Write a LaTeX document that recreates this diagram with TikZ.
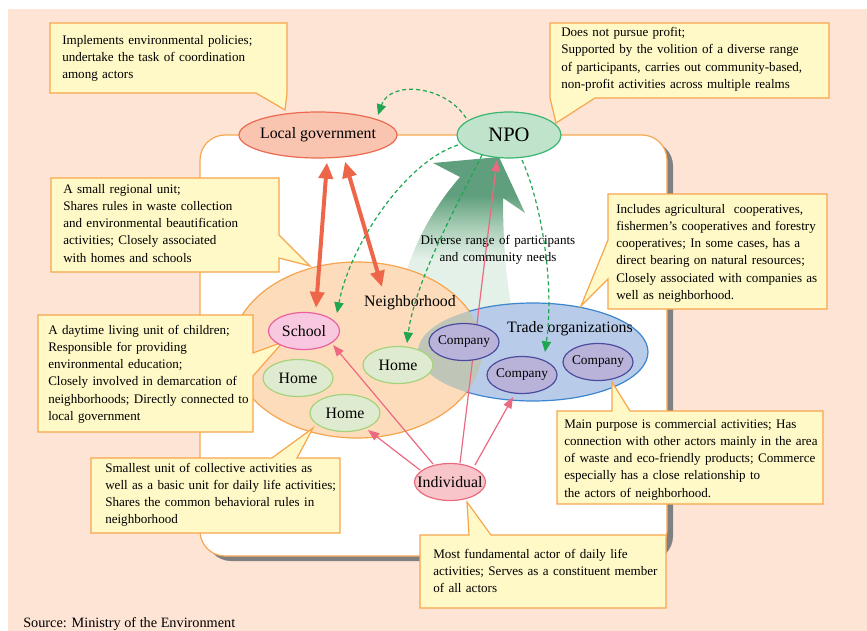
\documentclass[tikz,border=0pt]{standalone}
\usepackage{fontspec}
\setmainfont{Liberation Serif}
\usetikzlibrary{shapes.geometric,arrows.meta,calc}

\definecolor{peach}{HTML}{FDE4D4}
\definecolor{boxline}{HTML}{F6A852}
\definecolor{shadowgray}{HTML}{808080}
\definecolor{notefill}{HTML}{FFF9C8}
\definecolor{noteline}{HTML}{F7A64C}
\definecolor{lgfill}{HTML}{F9C5B1}
\definecolor{lgline}{HTML}{EC6A4F}
\definecolor{npofill}{HTML}{BFE3CB}
\definecolor{npoline}{HTML}{3AB570}
\definecolor{nbfill}{HTML}{FDDCBC}
\definecolor{nbline}{HTML}{F6A44E}
\definecolor{trfill}{HTML}{B8CCE9}
\definecolor{trline}{HTML}{3C86CF}
\definecolor{ovfill}{HTML}{BFC6B8}
\definecolor{compfill}{HTML}{B9B3DA}
\definecolor{compline}{HTML}{4C4C9E}
\definecolor{homefill}{HTML}{DEEBD0}
\definecolor{homeline}{HTML}{A6D27A}
\definecolor{schfill}{HTML}{F8C8E1}
\definecolor{schline}{HTML}{E8619E}
\definecolor{indfill}{HTML}{F8C5CA}
\definecolor{indline}{HTML}{EA6A7E}
\definecolor{redarr}{HTML}{EE6649}
\definecolor{pinkarr}{HTML}{EC6A80}
\definecolor{greendash}{HTML}{1FA64F}
\definecolor{arrowdark}{HTML}{5F9F7D}
\definecolor{arrowmid}{HTML}{A8CDB6}
\definecolor{arrowlight}{HTML}{E4F1E8}

% fade of the big participation arrow, light at the tail, dark at the head
\pgfdeclareverticalshading{arrowfade}{100bp}{color(0bp)=(arrowlight); color(46bp)=(arrowlight); color(55bp)=(arrowmid); color(64bp)=(arrowdark); color(100bp)=(arrowdark)}

\pgfdeclarelayer{back}
\pgfdeclarelayer{links}
\pgfsetlayers{back,links,main}

\newcommand\notefont{\fontsize{9.8}{12.9}\selectfont}
\newcommand\actorfont{\fontsize{11.9}{14}\selectfont}
\newcommand\npofont{\fontsize{15.4}{18}\selectfont}
\newcommand\compfont{\fontsize{10}{12}\selectfont}
\newcommand\srcfont{\fontsize{10.7}{13}\selectfont}

\tikzset{
  note/.style={fill=notefill, draw=noteline, line width=0.9pt, line join=miter},
  notetext/.style={font=\notefont, anchor=base west, align=left, text width=215pt, inner sep=0pt},
  actor/.style={ellipse, inner sep=0pt, line width=0.9pt, minimum width=53.25pt, minimum height=27.75pt, font=\actorfont},
  home/.style={actor, fill=homefill, draw=homeline, minimum width=52.5pt},
  company/.style={actor, fill=compfill, draw=compline, minimum width=52.5pt, font=\compfont},
  redlink/.style={draw=redarr, line width=3pt, arrows={Triangle[length=12pt,width=10.5pt]-Triangle[length=12pt,width=10.5pt]}},
  pinklink/.style={draw=pinkarr, line width=0.9pt, -{Triangle[length=8.5pt,width=6.5pt]}},
  greenlink/.style={draw=greendash, line width=0.9pt, dash pattern=on 3pt off 2.2pt, -{Triangle[length=8pt,width=7pt]}}
}

\begin{document}
\begin{tikzpicture}[x=0.75pt,y=-0.75pt]
\useasboundingbox (0,0) rectangle (867,631);

\begin{pgfonlayer}{back}
  \fill[peach] (8,9) rectangle (867,631);
  % framed area with drop shadow
  \fill[shadowgray, rounded corners=18.75pt] (206,141) rectangle (673,561);
  \draw[boxline, line width=0.9pt, fill=white, rounded corners=18.75pt] (200,135) rectangle (667,556);

  % participation arrow towards the NPO
  \shade[shading=arrowfade] (400,295) .. controls (412,240) and (440,200) .. (460,177)
     -- (433,163) -- (499,157) -- (525,213) -- (503,198)
     .. controls (503,240) and (506,280) .. (512,310) -- (465,332) -- (400,312) -- cycle;

  % neighborhood and trade organizations
  \node[ellipse, inner sep=0pt, minimum width=187.5pt, minimum height=132pt, fill=nbfill] (nbh) at (357,350) {};
  \node[ellipse, inner sep=0pt, minimum width=172.5pt, minimum height=73.5pt, fill=trfill] (trade) at (533,352) {};
  \begin{scope}
    \clip (357,350) ellipse [x radius=125, y radius=88];
    \fill[ovfill] (533,352) ellipse [x radius=115, y radius=49];
  \end{scope}
  \begin{scope}[even odd rule]
    \clip (0,0) rectangle (867,631) (533,352) ellipse [x radius=115, y radius=49];
    \draw[nbline, line width=0.9pt] (357,350) ellipse [x radius=125, y radius=88];
  \end{scope}
  \begin{scope}[even odd rule]
    \clip (0,0) rectangle (867,631) (357,350) ellipse [x radius=125, y radius=88];
    \draw[trline, line width=0.9pt] (533,352) ellipse [x radius=115, y radius=49];
  \end{scope}
  \node[font=\actorfont] (nblabel) at (410,303) {Neighborhood};
  \node[font=\actorfont] (trlabel) at (570,329) {Trade organizations};
  \node[font=\notefont, anchor=base, align=center, text width=170pt, inner sep=0pt] (needs) at (498,244)
    {Diverse range of participants\\and community needs};

  % callouts
  \path[note] (50,23) -- (287,23) -- (287,93) -- (285,110) -- (256,93) -- (50,93) -- cycle;
  \node[notetext] (n1) at (62,44.3) {Implements environmental policies;\\undertake the task of coordination\\among actors};

  \path[note] (550,23) -- (829,23) -- (829,98) -- (595,98) -- (556,123) -- (550,98) -- cycle;
  \node[notetext] (n2) at (561,36.7) {Does not pursue profit;\\Supported by the volition of a diverse range\\of participants, carries out community-based,\\non-profit activities across multiple realms};

  \path[note] (51,178) -- (279,178) -- (279,235) -- (310,266) -- (279,258) -- (279,272) -- (51,272) -- cycle;
  \node[notetext] (n3) at (63,193.3) {A small regional unit;\\Shares rules in waste collection\\and environmental beautification\\activities; Closely associated\\with homes and schools};

  \path[note] (38,315) -- (253,315) -- (253,353) -- (283,342) -- (253,376) -- (253,432) -- (38,432) -- cycle;
  \node[notetext] (n4) at (48,334.3) {A daytime living unit of children;\\Responsible for providing\\environmental education;\\Closely involved in demarcation of\\neighborhoods; Directly connected to\\local government};

  \path[note] (91,458) -- (272,458) -- (313,428) -- (297,458) -- (340,458) -- (340,533) -- (91,533) -- cycle;
  \node[notetext] (n5) at (105,472) {Smallest unit of collective activities as\\well as a basic unit for daily life activities;\\Shares the common behavioral rules in\\neighborhood};

  \path[note] (608,194) -- (827,194) -- (827,309) -- (608,309) -- (608,279) -- (581,306) -- (608,240) -- cycle;
  \node[notetext] (n6) at (616,213.3) {Includes agricultural~ cooperatives,\\fishermen’s cooperatives and forestry\\cooperatives; In some cases, has a\\direct bearing on natural resources;\\Closely associated with companies as\\well as neighborhood.};

  \path[note] (557,411) -- (612,411) -- (612,382) -- (630,411) -- (823,411) -- (823,504) -- (557,504) -- cycle;
  \node[notetext] (n7) at (564,428.3) {Main purpose is commercial activities; Has\\connection with other actors mainly in the area\\of waste and eco-friendly products; Commerce\\especially has a close relationship to\\the actors of neighborhood.};

  \path[note] (420,535) -- (469,535) -- (467,502) -- (491,535) -- (666,535) -- (666,608) -- (420,608) -- cycle;
  \node[notetext] (n8) at (433,558.3) {Most fundamental actor of daily life\\activities; Serves as a constituent member\\of all actors};

  \node[font=\srcfont, anchor=base west, inner sep=0pt] (src) at (23,627.5) {Source: Ministry of the Environment};
\end{pgfonlayer}

% actors
\node[actor, fill=lgfill, draw=lgline, minimum width=118.5pt, minimum height=34.5pt] (lg) at (318,135) {\makebox[0pt]{Local government}};
\node[actor, fill=npofill, draw=npoline, minimum width=78pt, minimum height=34.5pt, font=\npofont] (npo) at (509,135) {\makebox[0pt]{NPO}};
\node[actor, fill=schfill, draw=schline] (school) at (304,331) {\makebox[0pt]{School}};
\node[home] (home1) at (298,378) {\makebox[0pt]{Home}};
\node[home] (home2) at (345,413) {\makebox[0pt]{Home}};
\node[home] (home3) at (398,365) {\makebox[0pt]{Home}};
\node[company] (comp1) at (464,342) {\makebox[0pt]{Company}};
\node[company] (comp2) at (522,375) {\makebox[0pt]{Company}};
\node[company] (comp3) at (598,362) {\makebox[0pt]{Company}};
\node[actor, fill=indfill, draw=indline] (ind) at (450,482) {\makebox[0pt]{Individual}};

\begin{pgfonlayer}{links}
  % individual takes part in every actor
  \draw[pinklink] ($(ind.center)+(10,-19)$) -- ($(npo.center)+(-12,25)$);
  \draw[pinklink] ($(ind.center)+(-17,-18)$) -- ($(school.center)+(29,14)$);
  \draw[pinklink] ($(ind.center)+(-30,-12)$) -- ($(home2.center)+(23,17)$);
  \draw[pinklink] ($(ind.center)+(25,-17)$) -- ($(comp2.center)+(-9,22)$);

  % NPO activities
  \draw[greenlink] ($(npo.center)+(-43,-17)$) .. controls +(-21,-33) and +(12,-35) .. ($(lg.center)+(60,-20)$);
  \draw[greenlink] ($(npo.center)+(-51,10)$) .. controls +(-53,17) and +(13,-68) .. ($(school.center)+(33,-18)$);
  \draw[greenlink] ($(npo.center)+(-27,20)$) .. controls +(-20,40) and +(8,-63) .. ($(home3.center)+(9,-22)$);
  \draw[greenlink] ($(npo.center)+(13,25)$) .. controls +(18,40) and +(10,-72) .. ($(comp2.center)+(23,-23)$);

  % local government ties
  \draw[redlink] ($(lg.south)+(9,4)$) -- ($(school.north)+(12,-4)$);
  \draw[redlink] ($(lg.south)+(27,3)$) -- ($(nbh.center)+(25,-63)$);
\end{pgfonlayer}
\end{tikzpicture}
\end{document}
